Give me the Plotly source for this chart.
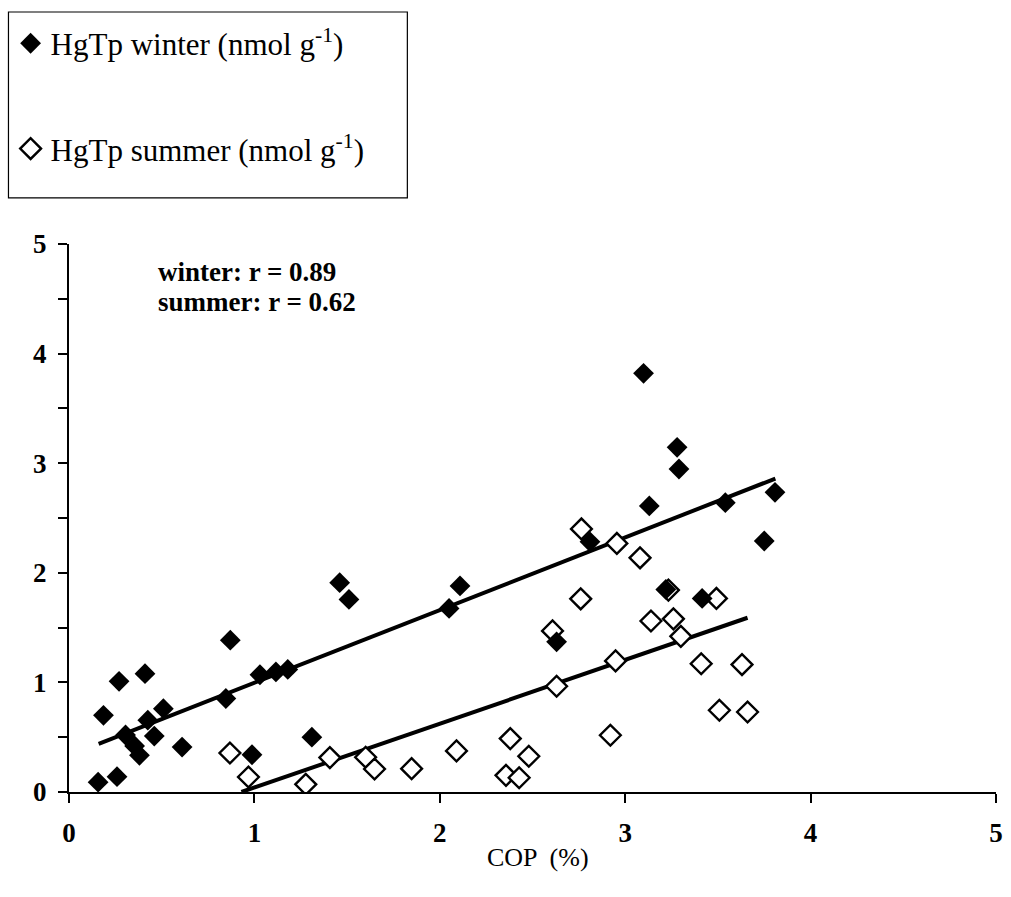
import plotly.graph_objects as go

# Winter HgTp (filled diamonds)
winter_cop = [0.157, 0.259, 0.186, 0.27, 0.41, 0.305, 0.354, 0.38, 0.425, 0.46, 0.509, 0.61,
              0.846, 0.87, 0.987, 1.03, 1.116, 1.18, 1.31, 1.46, 1.51, 2.05, 2.109, 2.63,
              2.81, 3.099, 3.13, 3.219, 3.28, 3.29, 3.415, 3.54, 3.75, 3.808]
winter_hg = [0.09, 0.14, 0.70, 1.01, 1.08, 0.52, 0.42, 0.335, 0.655, 0.51, 0.76, 0.41,
             0.853, 1.385, 0.34, 1.07, 1.096, 1.118, 0.50, 1.91, 1.757, 1.675, 1.88, 1.37,
             2.283, 3.82, 2.61, 1.848, 3.145, 2.947, 1.766, 2.64, 2.29, 2.734]

# Summer HgTp (open diamonds)
summer_cop = [0.868, 0.968, 1.277, 1.407, 1.60, 1.648, 1.848, 2.09, 2.357, 2.38, 2.428, 2.48,
              2.608, 2.63, 2.76, 2.764, 2.92, 2.948, 2.955, 3.08, 3.139, 3.233, 3.26, 3.30,
              3.41, 3.492, 3.508, 3.63, 3.66]
summer_hg = [0.356, 0.137, 0.07, 0.314, 0.317, 0.21, 0.213, 0.375, 0.152, 0.487, 0.13, 0.326,
             1.47, 0.965, 1.763, 2.40, 0.518, 1.196, 2.268, 2.137, 1.56, 1.842, 1.58, 1.42,
             1.17, 1.766, 0.746, 1.163, 0.73]

# Regression line end points
winter_fit_x = [0.16, 3.81]
winter_fit_y = [0.44, 2.86]
summer_fit_x = [0.93, 3.66]
summer_fit_y = [0.0, 1.59]

x_ticks = [0, 1, 2, 3, 4, 5]
y_ticks = [0, 1, 2, 3, 4, 5]

SERIF = "Liberation Serif"

fig = go.Figure()
fig.add_trace(go.Scatter(x=winter_fit_x, y=winter_fit_y, mode="lines",
                         line=dict(color="black", width=4), showlegend=False, hoverinfo="skip"))
fig.add_trace(go.Scatter(x=summer_fit_x, y=summer_fit_y, mode="lines",
                         line=dict(color="black", width=4), showlegend=False, hoverinfo="skip"))
fig.add_trace(go.Scatter(x=summer_cop, y=summer_hg, mode="markers",
                         name="HgTp summer (nmol g<sup>-1</sup>)", legendgroup="s", legendrank=2,
                         marker=dict(symbol="diamond", size=16, color="white",
                                     line=dict(color="black", width=2.4))))
fig.add_trace(go.Scatter(x=winter_cop, y=winter_hg, mode="markers",
                         name="HgTp winter (nmol g<sup>-1</sup>)", legendgroup="w", legendrank=1,
                         marker=dict(symbol="diamond", size=16, color="black",
                                     line=dict(color="black", width=0))))

fig.update_layout(
    width=1011, height=897,
    margin=dict(l=69, r=8, t=244, b=105),
    paper_bgcolor="white", plot_bgcolor="white",
    font=dict(family=SERIF, color="black", size=22),
    showlegend=True,
    legend=dict(x=-0.063, y=1.415, xanchor="left", yanchor="top",
                bgcolor="rgba(0,0,0,0)", borderwidth=0,
                font=dict(family=SERIF, size=31, color="black"),
                traceorder="grouped", tracegroupgap=62),
    xaxis=dict(range=[0, 5], tickvals=x_ticks, ticktext=["<b>%d</b>" % v for v in x_ticks],
               showgrid=False, zeroline=False, showline=True, linecolor="black", linewidth=2,
               ticks="outside", ticklen=9, tickwidth=2, tickcolor="black",
               tickfont=dict(family=SERIF, size=27, color="black"),
               ticklabelstandoff=7, fixedrange=True),
    yaxis=dict(range=[0, 5], tickvals=y_ticks, ticktext=["<b>%d</b>" % v for v in y_ticks],
               showgrid=False, zeroline=False, showline=True, linecolor="black", linewidth=2,
               ticks="outside", ticklen=9, tickwidth=2, tickcolor="black",
               tickfont=dict(family=SERIF, size=27, color="black"),
               ticklabelstandoff=6,
               minor=dict(dtick=0.5, ticks="outside", ticklen=9, tickwidth=2, tickcolor="black",
                          showgrid=False),
               fixedrange=True),
    shapes=[dict(type="rect", xref="paper", yref="paper",
                 x0=-0.0653, x1=0.365, y0=1.084, y1=1.4234,
                 line=dict(color="black", width=1.2), fillcolor="rgba(0,0,0,0)")],
    annotations=[
        dict(text="<b>winter: r = 0.89</b>", xref="paper", yref="paper", x=0.094, y=0.949,
             xanchor="left", yanchor="middle", showarrow=False,
             font=dict(family=SERIF, size=27, color="black")),
        dict(text="<b>summer: r = 0.62</b>", xref="paper", yref="paper", x=0.094, y=0.894,
             xanchor="left", yanchor="middle", showarrow=False,
             font=dict(family=SERIF, size=27, color="black")),
        dict(text="COP  (%)", xref="paper", yref="paper", x=0.506, y=-0.1204,
             xanchor="center", yanchor="middle", showarrow=False,
             font=dict(family=SERIF, size=26, color="black")),
    ],
)

fig.write_html("out.html")
